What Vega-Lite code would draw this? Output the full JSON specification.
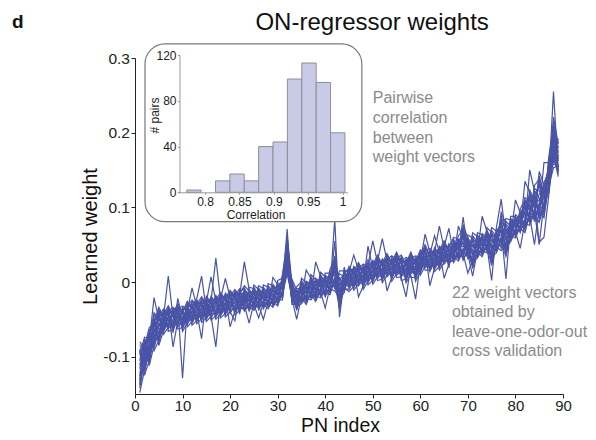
{
"$schema": "https://vega.github.io/schema/vega-lite/v6.json",
"width": 428,
"height": 336,
"autosize": {"type": "none"},
"padding": {"left": 135, "top": 58, "right": 33, "bottom": 46},
"background": "white",
"config": {"font": "Liberation Sans", "view": {"stroke": null}},
"layer": [
{
"data": {"values": [
{"pn":1,"a":-0.092,"b":-0.126,"c":-0.106,"d":-0.132,"e":-0.080,"f":-0.122,"g":-0.098,"h":-0.148,"i":-0.108,"j":-0.088,"k":-0.130,"l":-0.100,"m":-0.116,"n":-0.090,"o":-0.138,"p":-0.136,"q":-0.102,"r":-0.084,"s":-0.118,"t":-0.096,"u":-0.142,"v":-0.112},
{"pn":2,"a":-0.125,"b":-0.095,"c":-0.080,"d":-0.112,"e":-0.089,"f":-0.101,"g":-0.081,"h":-0.118,"i":-0.116,"j":-0.090,"k":-0.077,"l":-0.103,"m":-0.086,"n":-0.121,"o":-0.098,"p":-0.083,"q":-0.109,"r":-0.093,"s":-0.113,"t":-0.074,"u":-0.106,"v":-0.087},
{"pn":3,"a":-0.105,"b":-0.103,"c":-0.077,"d":-0.064,"e":-0.090,"f":-0.073,"g":-0.108,"h":-0.085,"i":-0.070,"j":-0.096,"k":-0.080,"l":-0.100,"m":-0.061,"n":-0.093,"o":-0.074,"p":-0.112,"q":-0.082,"r":-0.067,"s":-0.099,"t":-0.076,"u":-0.088,"v":-0.068},
{"pn":4,"a":-0.065,"b":-0.050,"c":-0.076,"d":-0.060,"e":-0.080,"f":-0.041,"g":-0.073,"h":-0.054,"i":-0.092,"j":-0.062,"k":-0.021,"l":-0.079,"m":-0.056,"n":-0.068,"o":-0.048,"p":-0.085,"q":-0.083,"r":-0.057,"s":-0.044,"t":-0.070,"u":-0.053,"v":-0.088},
{"pn":5,"a":-0.047,"b":-0.085,"c":-0.055,"d":-0.040,"e":-0.072,"f":-0.049,"g":-0.061,"h":-0.041,"i":-0.078,"j":-0.076,"k":-0.050,"l":-0.037,"m":-0.063,"n":-0.046,"o":-0.081,"p":-0.058,"q":-0.043,"r":-0.069,"s":-0.053,"t":-0.073,"u":-0.034,"v":-0.066},
{"pn":6,"a":-0.041,"b":-0.065,"c":-0.064,"d":-0.047,"e":-0.038,"f":-0.055,"g":-0.044,"h":-0.067,"i":-0.052,"j":-0.042,"k":-0.059,"l":-0.049,"m":-0.062,"n":-0.036,"o":-0.057,"p":-0.045,"q":-0.070,"r":-0.050,"s":-0.040,"t":-0.061,"u":-0.046,"v":-0.054},
{"pn":7,"a":-0.063,"b":-0.048,"c":-0.038,"d":0.008,"e":-0.045,"f":-0.058,"g":-0.032,"h":-0.053,"i":-0.041,"j":-0.066,"k":-0.046,"l":-0.036,"m":-0.057,"n":-0.042,"o":-0.050,"p":-0.037,"q":-0.061,"r":-0.060,"s":-0.043,"t":-0.034,"u":-0.051,"v":-0.040},
{"pn":8,"a":-0.055,"b":-0.043,"c":-0.068,"d":-0.048,"e":-0.038,"f":-0.059,"g":-0.044,"h":-0.052,"i":-0.039,"j":-0.063,"k":-0.062,"l":-0.087,"m":-0.036,"n":-0.053,"o":-0.042,"p":-0.065,"q":-0.050,"r":-0.040,"s":-0.057,"t":-0.047,"u":-0.060,"v":-0.034},
{"pn":9,"a":-0.047,"b":-0.034,"c":-0.022,"d":-0.057,"e":-0.040,"f":-0.031,"g":-0.048,"h":-0.037,"i":-0.060,"j":-0.045,"k":-0.035,"l":-0.052,"m":-0.042,"n":-0.055,"o":-0.029,"p":-0.050,"q":-0.038,"r":-0.063,"s":-0.043,"t":-0.033,"u":-0.054,"v":-0.039},
{"pn":10,"a":-0.040,"b":-0.063,"c":-0.048,"d":-0.038,"e":-0.055,"f":-0.129,"g":-0.058,"h":-0.032,"i":-0.053,"j":-0.041,"k":-0.066,"l":-0.046,"m":-0.036,"n":-0.057,"o":-0.042,"p":-0.050,"q":-0.037,"r":-0.061,"s":-0.060,"t":-0.043,"u":-0.034,"v":-0.051},
{"pn":11,"a":-0.026,"b":-0.047,"c":-0.035,"d":-0.060,"e":-0.040,"f":-0.030,"g":-0.051,"h":-0.036,"i":-0.044,"j":-0.031,"k":-0.055,"l":-0.054,"m":-0.037,"n":-0.028,"o":-0.045,"p":-0.034,"q":-0.057,"r":-0.042,"s":-0.032,"t":-0.049,"u":-0.039,"v":-0.052},
{"pn":12,"a":-0.034,"b":-0.042,"c":-0.029,"d":-0.053,"e":-0.052,"f":-0.035,"g":-0.026,"h":-0.043,"i":-0.032,"j":-0.055,"k":-0.040,"l":-0.030,"m":-0.047,"n":-0.037,"o":-0.050,"p":-0.024,"q":-0.045,"r":-0.033,"s":-0.058,"t":-0.038,"u":-0.008,"v":-0.049},
{"pn":13,"a":-0.041,"b":-0.030,"c":-0.053,"d":-0.038,"e":-0.028,"f":-0.045,"g":-0.035,"h":-0.048,"i":-0.022,"j":-0.043,"k":-0.031,"l":-0.056,"m":-0.036,"n":-0.026,"o":-0.047,"p":-0.032,"q":-0.040,"r":-0.027,"s":-0.051,"t":-0.050,"u":-0.033,"v":-0.024},
{"pn":14,"a":-0.046,"b":-0.020,"c":-0.041,"d":-0.029,"e":-0.054,"f":-0.034,"g":-0.024,"h":-0.045,"i":0.008,"j":-0.038,"k":-0.025,"l":-0.049,"m":-0.048,"n":-0.031,"o":-0.022,"p":-0.039,"q":-0.076,"r":-0.051,"s":-0.036,"t":-0.026,"u":-0.043,"v":-0.033},
{"pn":15,"a":-0.044,"b":-0.029,"c":-0.037,"d":-0.024,"e":-0.048,"f":-0.047,"g":-0.030,"h":-0.021,"i":-0.038,"j":-0.027,"k":-0.050,"l":-0.035,"m":-0.025,"n":-0.042,"o":-0.032,"p":-0.045,"q":-0.019,"r":-0.040,"s":-0.028,"t":-0.053,"u":-0.033,"v":-0.023},
{"pn":16,"a":-0.019,"b":-0.036,"c":-0.025,"d":-0.048,"e":-0.033,"f":-0.023,"g":-0.040,"h":-0.030,"i":-0.043,"j":0.007,"k":-0.038,"l":-0.026,"m":-0.051,"n":-0.031,"o":-0.021,"p":-0.042,"q":-0.027,"r":-0.035,"s":-0.022,"t":-0.046,"u":-0.045,"v":-0.028},
{"pn":17,"a":-0.029,"b":-0.042,"c":0.032,"d":-0.037,"e":-0.025,"f":-0.050,"g":-0.030,"h":-0.020,"i":-0.041,"j":-0.026,"k":-0.034,"l":-0.021,"m":-0.045,"n":-0.044,"o":-0.027,"p":-0.018,"q":-0.035,"r":-0.024,"s":-0.047,"t":-0.087,"u":-0.022,"v":-0.039},
{"pn":18,"a":-0.018,"b":-0.039,"c":-0.024,"d":-0.032,"e":-0.019,"f":-0.043,"g":-0.042,"h":-0.025,"i":-0.016,"j":-0.033,"k":-0.022,"l":-0.045,"m":-0.030,"n":-0.020,"o":-0.037,"p":-0.027,"q":-0.040,"r":-0.014,"s":-0.035,"t":-0.023,"u":-0.048,"v":-0.028},
{"pn":19,"a":-0.024,"b":-0.015,"c":-0.032,"d":-0.021,"e":-0.044,"f":-0.029,"g":-0.019,"h":-0.036,"i":-0.026,"j":-0.039,"k":0.005,"l":-0.034,"m":-0.022,"n":-0.047,"o":-0.027,"p":-0.017,"q":-0.038,"r":-0.023,"s":-0.031,"t":-0.018,"u":-0.042,"v":-0.041},
{"pn":20,"a":-0.034,"b":-0.024,"c":-0.037,"d":-0.011,"e":-0.032,"f":-0.020,"g":-0.060,"h":-0.025,"i":-0.015,"j":-0.036,"k":-0.021,"l":-0.029,"m":-0.016,"n":-0.040,"o":-0.039,"p":-0.022,"q":-0.013,"r":-0.030,"s":-0.019,"t":-0.042,"u":-0.027,"v":-0.017},
{"pn":21,"a":-0.024,"b":-0.014,"c":-0.035,"d":-0.020,"e":-0.028,"f":-0.015,"g":-0.039,"h":-0.038,"i":-0.021,"j":-0.012,"k":-0.029,"l":-0.018,"m":-0.041,"n":-0.052,"o":-0.016,"p":-0.033,"q":-0.023,"r":-0.036,"s":-0.010,"t":-0.031,"u":-0.019,"v":-0.044},
{"pn":22,"a":-0.037,"b":-0.020,"c":-0.011,"d":-0.028,"e":-0.017,"f":-0.040,"g":-0.025,"h":-0.015,"i":-0.032,"j":-0.022,"k":-0.035,"l":-0.009,"m":-0.030,"n":-0.018,"o":-0.043,"p":-0.023,"q":-0.013,"r":-0.034,"s":-0.019,"t":-0.027,"u":-0.014,"v":-0.038},
{"pn":23,"a":-0.033,"b":-0.016,"c":-0.026,"d":-0.013,"e":-0.039,"f":-0.018,"g":-0.030,"h":-0.005,"i":-0.025,"j":-0.035,"k":-0.014,"l":-0.029,"m":-0.021,"n":0.027,"o":-0.010,"p":-0.011,"q":-0.028,"r":-0.037,"s":-0.020,"t":-0.031,"u":-0.008,"v":-0.023},
{"pn":24,"a":-0.007,"b":-0.027,"c":-0.037,"d":-0.016,"e":-0.031,"f":-0.023,"g":-0.036,"h":-0.012,"i":-0.013,"j":-0.030,"k":-0.039,"l":-0.022,"m":-0.033,"n":-0.010,"o":-0.025,"p":-0.035,"q":-0.018,"r":-0.028,"s":-0.015,"t":-0.055,"u":-0.020,"v":-0.032},
{"pn":25,"a":-0.009,"b":-0.010,"c":-0.027,"d":-0.036,"e":-0.019,"f":-0.030,"g":-0.007,"h":-0.022,"i":-0.032,"j":-0.015,"k":-0.025,"l":-0.012,"m":-0.038,"n":-0.017,"o":-0.029,"p":-0.004,"q":-0.024,"r":-0.034,"s":-0.013,"t":-0.028,"u":-0.020,"v":-0.033},
{"pn":26,"a":-0.023,"b":-0.033,"c":-0.016,"d":-0.026,"e":-0.013,"f":-0.048,"g":-0.018,"h":-0.030,"i":-0.005,"j":-0.025,"k":-0.035,"l":-0.014,"m":-0.029,"n":-0.021,"o":-0.034,"p":-0.010,"q":-0.011,"r":-0.028,"s":-0.037,"t":-0.020,"u":-0.031,"v":-0.008},
{"pn":27,"a":-0.029,"b":-0.004,"c":-0.024,"d":-0.034,"e":-0.013,"f":-0.028,"g":-0.020,"h":-0.033,"i":-0.009,"j":-0.010,"k":-0.027,"l":-0.036,"m":-0.019,"n":-0.030,"o":-0.007,"p":-0.022,"q":-0.032,"r":-0.015,"s":-0.025,"t":-0.012,"u":-0.050,"v":-0.017},
{"pn":28,"a":-0.031,"b":-0.007,"c":-0.008,"d":-0.025,"e":-0.034,"f":-0.017,"g":-0.028,"h":-0.005,"i":-0.020,"j":-0.030,"k":-0.013,"l":-0.023,"m":-0.010,"n":-0.036,"o":-0.015,"p":-0.027,"q":-0.002,"r":-0.022,"s":-0.032,"t":-0.011,"u":-0.026,"v":-0.018},
{"pn":29,"a":-0.003,"b":-0.018,"c":-0.028,"d":-0.011,"e":-0.021,"f":-0.008,"g":-0.034,"h":-0.013,"i":-0.025,"j":0.006,"k":-0.020,"l":-0.030,"m":-0.009,"n":-0.024,"o":-0.016,"p":-0.029,"q":-0.005,"r":-0.006,"s":-0.023,"t":-0.032,"u":-0.015,"v":-0.026},
{"pn":30,"a":-0.011,"b":-0.023,"c":0.002,"d":-0.018,"e":-0.028,"f":-0.007,"g":-0.022,"h":-0.014,"i":-0.027,"j":-0.003,"k":-0.004,"l":-0.021,"m":-0.030,"n":-0.013,"o":-0.024,"p":-0.001,"q":-0.016,"r":-0.026,"s":-0.009,"t":-0.019,"u":-0.006,"v":-0.032},
{"pn":31,"a":-0.006,"b":-0.019,"c":0.005,"d":0.004,"e":-0.013,"f":-0.022,"g":-0.005,"h":-0.016,"i":0.007,"j":-0.008,"k":-0.018,"l":-0.001,"m":-0.011,"n":0.002,"o":-0.024,"p":-0.003,"q":-0.015,"r":0.010,"s":-0.010,"t":-0.020,"u":0.001,"v":-0.014},
{"pn":32,"a":0.071,"b":0.058,"c":0.035,"d":0.020,"e":0.046,"f":0.030,"g":0.050,"h":0.011,"i":0.043,"j":0.024,"k":0.062,"l":0.032,"m":0.017,"n":0.049,"o":0.026,"p":0.038,"q":0.018,"r":0.055,"s":0.053,"t":0.027,"u":0.014,"v":0.040},
{"pn":33,"a":-0.030,"b":-0.009,"c":-0.021,"d":0.004,"e":-0.016,"f":-0.026,"g":-0.005,"h":-0.020,"i":-0.012,"j":-0.025,"k":-0.001,"l":-0.002,"m":-0.019,"n":-0.028,"o":-0.011,"p":-0.022,"q":0.001,"r":-0.014,"s":-0.024,"t":-0.007,"u":-0.017,"v":-0.004},
{"pn":34,"a":-0.030,"b":-0.022,"c":-0.035,"d":-0.011,"e":-0.012,"f":-0.029,"g":-0.038,"h":-0.021,"i":-0.032,"j":-0.009,"k":-0.024,"l":-0.034,"m":-0.017,"n":-0.027,"o":-0.014,"p":-0.050,"q":-0.019,"r":-0.031,"s":-0.006,"t":-0.026,"u":-0.036,"v":-0.015},
{"pn":35,"a":-0.010,"b":-0.021,"c":0.002,"d":-0.013,"e":-0.023,"f":-0.006,"g":-0.016,"h":-0.003,"i":-0.029,"j":-0.008,"k":-0.020,"l":0.005,"m":-0.015,"n":-0.025,"o":-0.004,"p":-0.019,"q":-0.011,"r":-0.024,"s":0.000,"t":-0.001,"u":-0.018,"v":-0.027},
{"pn":36,"a":-0.004,"b":-0.030,"c":-0.009,"d":-0.021,"e":0.016,"f":-0.016,"g":-0.026,"h":-0.005,"i":-0.020,"j":-0.012,"k":-0.025,"l":-0.001,"m":-0.002,"n":-0.019,"o":-0.028,"p":-0.011,"q":-0.022,"r":0.001,"s":-0.014,"t":-0.024,"u":-0.007,"v":-0.017},
{"pn":37,"a":0.001,"b":-0.014,"c":-0.006,"d":-0.019,"e":0.005,"f":0.004,"g":-0.013,"h":-0.022,"i":-0.005,"j":-0.016,"k":0.007,"l":-0.008,"m":-0.018,"n":-0.001,"o":-0.011,"p":0.002,"q":-0.024,"r":-0.003,"s":-0.015,"t":0.010,"u":-0.010,"v":-0.020},
{"pn":38,"a":-0.024,"b":-0.007,"c":-0.018,"d":0.005,"e":-0.010,"f":-0.020,"g":-0.003,"h":-0.013,"i":0.000,"j":-0.026,"k":-0.005,"l":-0.017,"m":0.027,"n":-0.012,"o":-0.022,"p":-0.001,"q":-0.016,"r":-0.008,"s":-0.021,"t":0.003,"u":0.002,"v":-0.015},
{"pn":39,"a":-0.008,"b":0.005,"c":-0.021,"d":0.000,"e":-0.012,"f":0.013,"g":-0.007,"h":-0.017,"i":0.004,"j":-0.011,"k":-0.003,"l":-0.016,"m":0.008,"n":0.007,"o":-0.010,"p":-0.019,"q":-0.002,"r":-0.013,"s":0.010,"t":-0.005,"u":-0.015,"v":0.002},
{"pn":40,"a":-0.018,"b":0.003,"c":-0.012,"d":-0.004,"e":-0.017,"f":0.007,"g":0.006,"h":-0.011,"i":-0.020,"j":-0.003,"k":-0.014,"l":0.009,"m":-0.006,"n":-0.016,"o":0.001,"p":-0.009,"q":0.004,"r":-0.035,"s":-0.001,"t":-0.013,"u":0.012,"v":-0.008},
{"pn":41,"a":-0.006,"b":-0.015,"c":0.002,"d":-0.009,"e":0.014,"f":-0.001,"g":-0.011,"h":0.006,"i":-0.004,"j":0.009,"k":-0.017,"l":0.004,"m":-0.008,"n":0.017,"o":-0.003,"p":-0.013,"q":0.008,"r":-0.007,"s":0.001,"t":-0.012,"u":0.012,"v":0.011},
{"pn":42,"a":0.023,"b":0.007,"c":0.027,"d":-0.012,"e":0.020,"f":0.001,"g":0.084,"h":0.009,"i":-0.006,"j":0.026,"k":0.003,"l":0.015,"m":-0.005,"n":0.032,"o":0.030,"p":0.055,"q":-0.009,"r":0.017,"s":0.000,"t":0.035,"u":0.012,"v":-0.003},
{"pn":43,"a":-0.015,"b":-0.030,"c":0.002,"d":-0.021,"e":-0.009,"f":-0.029,"g":-0.047,"h":0.006,"i":-0.020,"j":-0.033,"k":-0.007,"l":-0.024,"m":0.011,"n":-0.012,"o":-0.027,"p":-0.035,"q":-0.017,"r":0.003,"s":-0.036,"t":-0.004,"u":-0.023,"v":0.015},
{"pn":44,"a":0.014,"b":-0.003,"c":-0.012,"d":0.005,"e":-0.006,"f":0.017,"g":0.002,"h":-0.008,"i":0.009,"j":-0.001,"k":0.012,"l":-0.014,"m":0.007,"n":-0.005,"o":0.020,"p":0.000,"q":-0.010,"r":0.011,"s":-0.004,"t":0.004,"u":-0.009,"v":0.015},
{"pn":45,"a":0.015,"b":-0.002,"c":0.008,"d":-0.005,"e":0.021,"f":0.000,"g":0.012,"h":-0.013,"i":0.007,"j":0.017,"k":-0.004,"l":0.011,"m":0.003,"n":0.016,"o":-0.008,"p":-0.007,"q":0.010,"r":0.019,"s":0.002,"t":0.013,"u":-0.010,"v":0.005},
{"pn":46,"a":-0.011,"b":0.009,"c":0.019,"d":-0.002,"e":0.013,"f":0.005,"g":0.018,"h":-0.006,"i":-0.005,"j":0.012,"k":0.021,"l":0.004,"m":0.015,"n":-0.008,"o":0.007,"p":0.017,"q":0.000,"r":0.010,"s":-0.003,"t":0.036,"u":0.002,"v":0.014},
{"pn":47,"a":-0.003,"b":-0.002,"c":0.015,"d":0.024,"e":0.007,"f":0.018,"g":-0.005,"h":0.010,"i":0.020,"j":0.003,"k":0.013,"l":0.000,"m":0.026,"n":0.005,"o":0.017,"p":-0.020,"q":0.012,"r":0.022,"s":0.001,"t":0.016,"u":0.008,"v":0.021},
{"pn":48,"a":0.008,"b":0.018,"c":0.001,"d":0.011,"e":-0.002,"f":0.024,"g":0.003,"h":0.015,"i":-0.010,"j":0.010,"k":0.020,"l":-0.001,"m":0.014,"n":0.006,"o":0.019,"p":-0.005,"q":-0.004,"r":0.013,"s":0.022,"t":0.005,"u":0.016,"v":-0.007},
{"pn":49,"a":0.021,"b":-0.004,"c":0.016,"d":0.026,"e":0.005,"f":0.020,"g":0.012,"h":0.025,"i":0.001,"j":0.002,"k":0.019,"l":0.048,"m":0.011,"n":0.022,"o":-0.001,"p":0.014,"q":0.024,"r":0.007,"s":0.017,"t":0.004,"u":0.030,"v":0.009},
{"pn":50,"a":0.026,"b":0.002,"c":0.003,"d":0.020,"e":0.029,"f":0.012,"g":0.023,"h":0.000,"i":0.015,"j":0.025,"k":0.008,"l":0.018,"m":0.005,"n":0.055,"o":0.010,"p":0.022,"q":-0.003,"r":0.017,"s":0.027,"t":0.006,"u":0.021,"v":0.013},
{"pn":51,"a":0.005,"b":0.020,"c":0.030,"d":0.013,"e":0.023,"f":0.010,"g":0.036,"h":0.015,"i":0.027,"j":0.002,"k":0.022,"l":0.032,"m":0.011,"n":0.026,"o":0.018,"p":0.031,"q":0.007,"r":0.008,"s":0.025,"t":0.034,"u":0.017,"v":0.028},
{"pn":52,"a":0.012,"b":0.024,"c":-0.001,"d":0.019,"e":0.029,"f":0.008,"g":0.023,"h":0.015,"i":0.028,"j":0.004,"k":0.005,"l":0.022,"m":0.031,"n":0.014,"o":0.025,"p":0.002,"q":0.017,"r":0.027,"s":0.010,"t":0.020,"u":0.007,"v":0.058},
{"pn":53,"a":0.020,"b":0.033,"c":0.009,"d":0.010,"e":0.027,"f":0.036,"g":0.019,"h":0.030,"i":0.007,"j":0.022,"k":0.032,"l":0.015,"m":0.025,"n":0.012,"o":0.038,"p":0.017,"q":0.029,"r":-0.012,"s":0.024,"t":0.034,"u":0.013,"v":0.028},
{"pn":54,"a":0.027,"b":0.004,"c":0.019,"d":0.029,"e":0.012,"f":0.022,"g":0.009,"h":0.035,"i":0.014,"j":0.026,"k":0.001,"l":0.021,"m":0.031,"n":0.010,"o":0.025,"p":0.017,"q":0.030,"r":0.006,"s":0.007,"t":0.024,"u":0.033,"v":0.016},
{"pn":55,"a":0.040,"b":0.019,"c":0.031,"d":0.006,"e":0.026,"f":0.036,"g":0.015,"h":0.030,"i":0.022,"j":0.035,"k":0.011,"l":0.012,"m":0.029,"n":0.038,"o":0.021,"p":0.032,"q":0.009,"r":0.024,"s":0.034,"t":0.017,"u":0.027,"v":0.014},
{"pn":56,"a":0.026,"b":0.018,"c":0.031,"d":0.007,"e":0.008,"f":0.025,"g":0.034,"h":0.017,"i":0.028,"j":0.005,"k":0.020,"l":0.030,"m":0.013,"n":0.023,"o":0.010,"p":0.036,"q":0.015,"r":0.027,"s":0.002,"t":0.022,"u":0.032,"v":0.011},
{"pn":57,"a":0.014,"b":0.025,"c":0.002,"d":0.017,"e":0.027,"f":0.010,"g":0.020,"h":0.007,"i":0.033,"j":-0.020,"k":0.024,"l":-0.001,"m":0.019,"n":0.029,"o":0.008,"p":0.023,"q":0.015,"r":0.028,"s":0.004,"t":0.005,"u":0.022,"v":0.031},
{"pn":58,"a":0.014,"b":0.040,"c":0.019,"d":0.031,"e":0.006,"f":0.026,"g":0.036,"h":0.015,"i":0.030,"j":0.022,"k":0.035,"l":0.011,"m":0.012,"n":0.029,"o":0.038,"p":0.021,"q":0.032,"r":0.009,"s":0.024,"t":0.034,"u":0.017,"v":0.027},
{"pn":59,"a":0.010,"b":0.025,"c":0.017,"d":0.030,"e":0.006,"f":0.007,"g":0.024,"h":0.033,"i":0.016,"j":0.027,"k":0.004,"l":0.019,"m":0.029,"n":0.012,"o":0.022,"p":0.009,"q":0.035,"r":-0.023,"s":0.026,"t":0.001,"u":0.021,"v":0.031},
{"pn":60,"a":0.041,"b":0.024,"c":0.035,"d":0.012,"e":0.027,"f":0.037,"g":0.020,"h":0.030,"i":0.017,"j":0.043,"k":0.022,"l":0.034,"m":0.009,"n":0.029,"o":0.039,"p":0.018,"q":0.033,"r":0.025,"s":0.038,"t":0.014,"u":0.015,"v":0.032},
{"pn":61,"a":0.037,"b":0.024,"c":0.050,"d":0.029,"e":0.064,"f":0.016,"g":0.036,"h":0.046,"i":0.025,"j":0.040,"k":0.032,"l":0.045,"m":0.021,"n":0.022,"o":0.039,"p":0.048,"q":0.031,"r":0.042,"s":0.019,"t":0.034,"u":0.044,"v":0.027},
{"pn":62,"a":0.041,"b":0.020,"c":0.035,"d":0.027,"e":0.040,"f":0.016,"g":0.017,"h":0.034,"i":0.043,"j":0.026,"k":0.037,"l":0.014,"m":0.029,"n":0.039,"o":0.022,"p":0.032,"q":0.019,"r":0.045,"s":0.024,"t":0.036,"u":-0.005,"v":0.031},
{"pn":63,"a":0.037,"b":0.046,"c":0.029,"d":0.040,"e":0.017,"f":0.032,"g":0.042,"h":0.025,"i":0.035,"j":0.022,"k":0.062,"l":0.027,"m":0.039,"n":0.014,"o":0.034,"p":0.044,"q":0.023,"r":0.038,"s":0.030,"t":0.043,"u":0.019,"v":0.020},
{"pn":64,"a":0.027,"b":0.037,"c":0.024,"d":0.075,"e":0.029,"f":0.041,"g":0.016,"h":0.036,"i":0.046,"j":0.025,"k":0.040,"l":0.032,"m":0.045,"n":0.021,"o":0.022,"p":0.039,"q":0.048,"r":0.031,"s":0.042,"t":0.019,"u":0.034,"v":0.044},
{"pn":65,"a":0.041,"b":0.051,"c":0.030,"d":0.045,"e":0.037,"f":0.050,"g":0.026,"h":0.027,"i":0.044,"j":0.053,"k":0.036,"l":0.047,"m":0.024,"n":0.039,"o":0.049,"p":0.032,"q":0.042,"r":0.029,"s":0.055,"t":0.034,"u":0.046,"v":0.005},
{"pn":66,"a":0.025,"b":0.042,"c":0.051,"d":0.034,"e":0.045,"f":0.022,"g":0.037,"h":0.047,"i":0.030,"j":0.040,"k":0.027,"l":0.072,"m":0.032,"n":0.044,"o":0.019,"p":0.039,"q":0.049,"r":0.028,"s":0.043,"t":0.035,"u":0.048,"v":0.024},
{"pn":67,"a":0.032,"b":0.049,"c":0.039,"d":0.052,"e":0.026,"f":0.047,"g":0.035,"h":0.060,"i":0.040,"j":0.030,"k":0.051,"l":0.036,"m":0.044,"n":0.031,"o":0.055,"p":0.054,"q":0.037,"r":0.028,"s":0.045,"t":0.034,"u":0.057,"v":0.042},
{"pn":68,"a":0.062,"b":0.042,"c":0.032,"d":0.053,"e":0.038,"f":0.046,"g":0.033,"h":0.057,"i":0.056,"j":0.039,"k":0.030,"l":0.047,"m":0.036,"n":0.075,"o":0.044,"p":0.034,"q":0.051,"r":0.041,"s":0.054,"t":0.028,"u":0.049,"v":0.037},
{"pn":69,"a":0.070,"b":0.068,"c":0.042,"d":0.029,"e":0.055,"f":0.038,"g":0.073,"h":0.050,"i":0.035,"j":0.061,"k":0.045,"l":0.065,"m":0.087,"n":0.058,"o":0.039,"p":0.077,"q":0.047,"r":0.032,"s":0.064,"t":0.041,"u":0.053,"v":0.033},
{"pn":70,"a":0.045,"b":0.035,"c":0.052,"d":0.042,"e":0.055,"f":0.012,"g":0.050,"h":0.038,"i":0.063,"j":0.043,"k":0.033,"l":0.054,"m":0.039,"n":0.047,"o":0.034,"p":0.058,"q":0.057,"r":0.040,"s":0.031,"t":0.048,"u":0.037,"v":0.060},
{"pn":71,"a":0.028,"b":0.066,"c":0.036,"d":0.021,"e":0.053,"f":0.030,"g":0.042,"h":0.022,"i":0.059,"j":0.057,"k":0.031,"l":0.018,"m":0.044,"n":0.027,"o":0.062,"p":0.039,"q":0.024,"r":0.050,"s":0.034,"t":0.054,"u":0.008,"v":0.047},
{"pn":72,"a":0.037,"b":0.061,"c":0.060,"d":0.043,"e":0.034,"f":0.051,"g":0.040,"h":0.063,"i":0.048,"j":0.038,"k":0.055,"l":0.045,"m":0.058,"n":0.032,"o":0.053,"p":0.041,"q":0.066,"r":0.046,"s":0.036,"t":0.057,"u":0.042,"v":0.050},
{"pn":73,"a":0.065,"b":0.050,"c":0.040,"d":0.057,"e":0.047,"f":0.060,"g":0.034,"h":0.055,"i":0.043,"j":0.088,"k":0.048,"l":0.038,"m":0.059,"n":0.044,"o":0.052,"p":0.039,"q":0.063,"r":0.062,"s":0.045,"t":0.036,"u":0.053,"v":0.042},
{"pn":74,"a":0.060,"b":0.048,"c":0.073,"d":0.053,"e":0.043,"f":0.064,"g":0.049,"h":0.057,"i":0.044,"j":0.068,"k":0.067,"l":0.050,"m":0.041,"n":0.058,"o":0.047,"p":0.070,"q":0.055,"r":0.045,"s":0.062,"t":0.052,"u":0.065,"v":0.039},
{"pn":75,"a":0.049,"b":0.002,"c":0.066,"d":0.064,"e":0.038,"f":0.025,"g":0.051,"h":0.034,"i":0.069,"j":0.046,"k":0.031,"l":0.057,"m":0.041,"n":0.061,"o":0.022,"p":0.054,"q":0.035,"r":0.073,"s":0.043,"t":0.028,"u":0.060,"v":0.037},
{"pn":76,"a":0.047,"b":0.070,"c":0.055,"d":0.045,"e":0.062,"f":0.052,"g":0.065,"h":0.039,"i":0.060,"j":0.048,"k":0.073,"l":0.053,"m":0.043,"n":0.064,"o":0.049,"p":0.057,"q":0.044,"r":0.068,"s":0.067,"t":0.050,"u":0.041,"v":0.058},
{"pn":77,"a":0.042,"b":0.074,"c":0.055,"d":0.093,"e":0.063,"f":0.048,"g":0.080,"h":0.057,"i":0.069,"j":0.049,"k":0.111,"l":0.084,"m":0.058,"n":0.045,"o":0.071,"p":0.054,"q":0.089,"r":0.066,"s":0.051,"t":0.077,"u":0.061,"v":0.081},
{"pn":78,"a":0.049,"b":0.061,"c":0.041,"d":0.078,"e":0.076,"f":0.050,"g":0.037,"h":0.063,"i":0.046,"j":0.081,"k":0.058,"l":0.043,"m":0.069,"n":0.053,"o":0.004,"p":0.034,"q":0.066,"r":0.047,"s":0.085,"t":0.055,"u":0.040,"v":0.072},
{"pn":79,"a":0.073,"b":0.062,"c":0.085,"d":0.070,"e":0.060,"f":0.077,"g":0.067,"h":0.080,"i":0.054,"j":0.075,"k":0.063,"l":0.088,"m":0.068,"n":0.058,"o":0.079,"p":0.064,"q":0.072,"r":0.059,"s":0.083,"t":0.082,"u":0.065,"v":0.056},
{"pn":80,"a":0.085,"b":0.059,"c":0.080,"d":0.068,"e":0.110,"f":0.073,"g":0.063,"h":0.084,"i":0.069,"j":0.077,"k":0.064,"l":0.088,"m":0.087,"n":0.070,"o":0.061,"p":0.078,"q":0.067,"r":0.090,"s":0.075,"t":0.065,"u":0.082,"v":0.072},
{"pn":81,"a":0.089,"b":0.074,"c":0.082,"d":0.069,"e":0.093,"f":0.092,"g":0.075,"h":0.066,"i":0.083,"j":0.072,"k":0.095,"l":0.080,"m":0.070,"n":0.087,"o":0.077,"p":0.090,"q":0.045,"r":0.085,"s":0.073,"t":0.098,"u":0.078,"v":0.068},
{"pn":82,"a":0.069,"b":0.095,"c":0.078,"d":0.113,"e":0.090,"f":0.075,"g":0.101,"h":0.085,"i":0.105,"j":0.066,"k":0.098,"l":0.079,"m":0.135,"n":0.087,"o":0.072,"p":0.104,"q":0.081,"r":0.093,"s":0.073,"t":0.110,"u":0.108,"v":0.082},
{"pn":83,"a":0.095,"b":0.115,"c":0.076,"d":0.108,"e":0.089,"f":0.150,"g":0.097,"h":0.082,"i":0.114,"j":0.091,"k":0.103,"l":0.083,"m":0.120,"n":0.118,"o":0.092,"p":0.079,"q":0.105,"r":0.088,"s":0.123,"t":0.100,"u":0.085,"v":0.111},
{"pn":84,"a":0.084,"b":0.116,"c":0.093,"d":0.105,"e":0.085,"f":0.122,"g":0.120,"h":0.094,"i":0.081,"j":0.107,"k":0.090,"l":0.125,"m":0.102,"n":0.087,"o":0.113,"p":0.097,"q":0.117,"r":0.050,"s":0.110,"t":0.091,"u":0.129,"v":0.099},
{"pn":85,"a":0.102,"b":0.084,"c":0.118,"d":0.096,"e":0.142,"f":0.112,"g":0.092,"h":0.050,"i":0.106,"j":0.132,"k":0.080,"l":0.122,"m":0.098,"n":0.148,"o":0.108,"p":0.088,"q":0.130,"r":0.100,"s":0.053,"t":0.090,"u":0.138,"v":0.136},
{"pn":86,"a":0.121,"b":0.105,"c":0.125,"d":0.086,"e":0.118,"f":0.099,"g":0.160,"h":0.107,"i":0.092,"j":0.124,"k":0.101,"l":0.113,"m":0.093,"n":0.130,"o":0.128,"p":0.102,"q":0.089,"r":0.115,"s":0.060,"t":0.133,"u":0.110,"v":0.095},
{"pn":87,"a":0.137,"b":0.122,"c":0.154,"d":0.131,"e":0.143,"f":0.123,"g":0.160,"h":0.158,"i":0.132,"j":0.119,"k":0.145,"l":0.128,"m":0.163,"n":0.140,"o":0.125,"p":0.151,"q":0.135,"r":0.155,"s":0.116,"t":0.148,"u":0.129,"v":0.167},
{"pn":88,"a":0.255,"b":0.175,"c":0.157,"d":0.191,"e":0.169,"f":0.215,"g":0.185,"h":0.165,"i":0.199,"j":0.179,"k":0.205,"l":0.153,"m":0.195,"n":0.171,"o":0.221,"p":0.181,"q":0.161,"r":0.203,"s":0.173,"t":0.189,"u":0.163,"v":0.211},
{"pn":89,"a":0.150,"b":0.176,"c":0.160,"d":0.180,"e":0.141,"f":0.173,"g":0.154,"h":0.192,"i":0.162,"j":0.147,"k":0.179,"l":0.156,"m":0.168,"n":0.148,"o":0.185,"p":0.183,"q":0.157,"r":0.144,"s":0.170,"t":0.153,"u":0.188,"v":0.165}
]},
"transform": [{"fold": ["a","b","c","d","e","f","g","h","i","j","k","l","m","n","o","p","q","r","s","t","u","v"], "as": ["vec", "w"]}],
"mark": {"type": "line", "color": "#4a54a6", "strokeWidth": 1.2, "clip": false},
"encoding": {
"x": {"field": "pn", "type": "quantitative", "scale": {"domain": [0, 90], "range": [0, 428], "nice": false, "zero": false},
"axis": {"orient": "bottom", "zindex": 1, "domain": true, "ticks": true, "domainWidth": 1, "tickWidth": 1, "domainOpacity": 1, "tickOpacity": 1, "values": [0,10,20,30,40,50,60,70,80,90], "format": "d", "title": "PN index", "titleFontSize": 19.5, "titleFontWeight": "normal", "titleColor": "#111111", "titleX": 205, "titleY": 37.5, "titleBaseline": "alphabetic", "labelFontSize": 15, "labelColor": "#222222", "labelPadding": 0.5, "labelFlush": false, "tickSize": 4, "tickColor": "#222222", "domainColor": "#222222", "grid": false}},
"y": {"field": "w", "type": "quantitative", "scale": {"domain": [-0.15, 0.3], "range": [336, 0], "nice": false, "zero": false},
"axis": {"orient": "left", "zindex": 1, "domain": true, "ticks": true, "domainWidth": 1, "tickWidth": 1, "domainOpacity": 1, "tickOpacity": 1, "values": [-0.1,0,0.1,0.2,0.3], "labelExpr": "datum.value < 0 ? '-' + format(-datum.value, '.1f') : (datum.value == 0 ? '0' : format(datum.value, '.1f'))", "title": "Learned weight", "titleFontSize": 20, "titleFontWeight": "normal", "titleColor": "#111111", "titleX": -39, "titleY": 178, "titleBaseline": "alphabetic", "labelFontSize": 15.5, "labelColor": "#222222", "labelPadding": 1.5, "labelFlush": false, "tickSize": 4, "tickColor": "#222222", "domainColor": "#222222", "grid": false}},
"detail": {"field": "vec", "type": "nominal"}
}
},
{
"data": {"values": [{}]},
"mark": {"type": "rect", "fill": "white", "stroke": "#7a7a7a", "strokeWidth": 1.2, "cornerRadius": 20, "clip": false},
"encoding": {
"x": {"datum": 2.1, "type": "quantitative", "scale": {"domain": [0, 90], "range": [0, 428], "nice": false, "zero": false}, "axis": null},
"x2": {"datum": 47.7},
"y": {"datum": 0.3188, "type": "quantitative", "scale": {"domain": [-0.15, 0.3], "range": [336, 0], "nice": false, "zero": false}, "axis": null},
"y2": {"datum": 0.0808}
}
},
{
"data": {"values": [{}]},
"mark": {"type": "text", "text": ["Pairwise", "correlation", "between", "weight vectors"], "align": "left", "baseline": "alphabetic", "fontSize": 16, "lineHeight": 19.6, "color": "#8a8a8a"},
"encoding": {
"x": {"datum": 50.0, "type": "quantitative", "scale": {"domain": [0, 90], "range": [0, 428], "nice": false, "zero": false}, "axis": null},
"y": {"datum": 0.2393, "type": "quantitative", "scale": {"domain": [-0.15, 0.3], "range": [336, 0], "nice": false, "zero": false}, "axis": null}
}
},
{
"data": {"values": [{}]},
"mark": {"type": "text", "text": ["22 weight vectors", "obtained by", "leave-one-odor-out", "cross validation"], "align": "left", "baseline": "alphabetic", "fontSize": 16, "lineHeight": 19.2, "color": "#8a8a8a"},
"encoding": {
"x": {"datum": 66.64, "type": "quantitative", "scale": {"domain": [0, 90], "range": [0, 428], "nice": false, "zero": false}, "axis": null},
"y": {"datum": -0.0218, "type": "quantitative", "scale": {"domain": [-0.15, 0.3], "range": [336, 0], "nice": false, "zero": false}, "axis": null}
}
},
{
"data": {"values": [{}]},
"mark": {"type": "text", "text": "d", "align": "left", "baseline": "alphabetic", "fontSize": 19, "fontWeight": "bold", "color": "#111111"},
"encoding": {
"x": {"datum": -25.88, "type": "quantitative", "scale": {"domain": [0, 90], "range": [0, 428], "nice": false, "zero": false}, "axis": null},
"y": {"datum": 0.3402, "type": "quantitative", "scale": {"domain": [-0.15, 0.3], "range": [336, 0], "nice": false, "zero": false}, "axis": null}
}
},
{
"data": {"values": [{}]},
"mark": {"type": "text", "text": "ON-regressor weights", "align": "center", "baseline": "alphabetic", "fontSize": 24, "color": "#111111"},
"encoding": {
"x": {"datum": 49.87, "type": "quantitative", "scale": {"domain": [0, 90], "range": [0, 428], "nice": false, "zero": false}, "axis": null},
"y": {"datum": 0.3375, "type": "quantitative", "scale": {"domain": [-0.15, 0.3], "range": [336, 0], "nice": false, "zero": false}, "axis": null}
}
},
{
"data": {"values": [
{"lo": 0.7734, "hi": 0.7943, "n": 2},
{"lo": 0.8152, "hi": 0.8361, "n": 10},
{"lo": 0.8361, "hi": 0.8570, "n": 16},
{"lo": 0.8570, "hi": 0.8779, "n": 10},
{"lo": 0.8779, "hi": 0.8988, "n": 40},
{"lo": 0.8988, "hi": 0.9197, "n": 44},
{"lo": 0.9197, "hi": 0.9406, "n": 99},
{"lo": 0.9406, "hi": 0.9615, "n": 113},
{"lo": 0.9615, "hi": 0.9824, "n": 96},
{"lo": 0.9824, "hi": 1.0033, "n": 52}
]},
"mark": {"type": "rect", "fill": "#c8cae6", "stroke": "#8e8e9c", "strokeWidth": 1},
"encoding": {
"x": {"field": "lo", "type": "quantitative", "scale": {"domain": [0.76, 1.007], "range": [42.5, 212.5], "nice": false, "zero": false},
"axis": {"orient": "bottom", "zindex": 2, "domain": true, "ticks": true, "domainOpacity": 1, "tickOpacity": 1, "offset": -201.7, "values": [0.8, 0.85, 0.9, 0.95, 1], "format": "~g", "title": "Correlation", "titleFontSize": 12, "titleFontWeight": "normal", "titleColor": "#222222", "titleX": 120.5, "titleY": 26, "titleBaseline": "alphabetic", "labelFontSize": 12, "labelColor": "#222222", "labelPadding": 2, "labelFlush": false, "tickSize": 2, "tickColor": "#999999", "domainColor": "#999999", "grid": false}},
"x2": {"field": "hi"},
"y": {"field": "n", "type": "quantitative", "scale": {"domain": [0, 120], "range": [134.3, -3], "nice": false, "zero": false},
"axis": {"orient": "left", "zindex": 2, "domain": true, "ticks": true, "domainOpacity": 1, "tickOpacity": 1, "offset": -44.5, "values": [0, 40, 80, 120], "format": "d", "title": "# pairs", "titleFontSize": 12, "titleFontWeight": "normal", "titleColor": "#222222", "titleX": -21, "titleY": 57, "titleBaseline": "alphabetic", "labelFontSize": 12, "labelColor": "#222222", "labelPadding": 1.5, "labelFlush": false, "tickSize": 2, "tickColor": "#999999", "domainColor": "#999999", "grid": false}},
"y2": {"datum": 0}
}
}
],
"resolve": {"scale": {"x": "independent", "y": "independent"}}
}
